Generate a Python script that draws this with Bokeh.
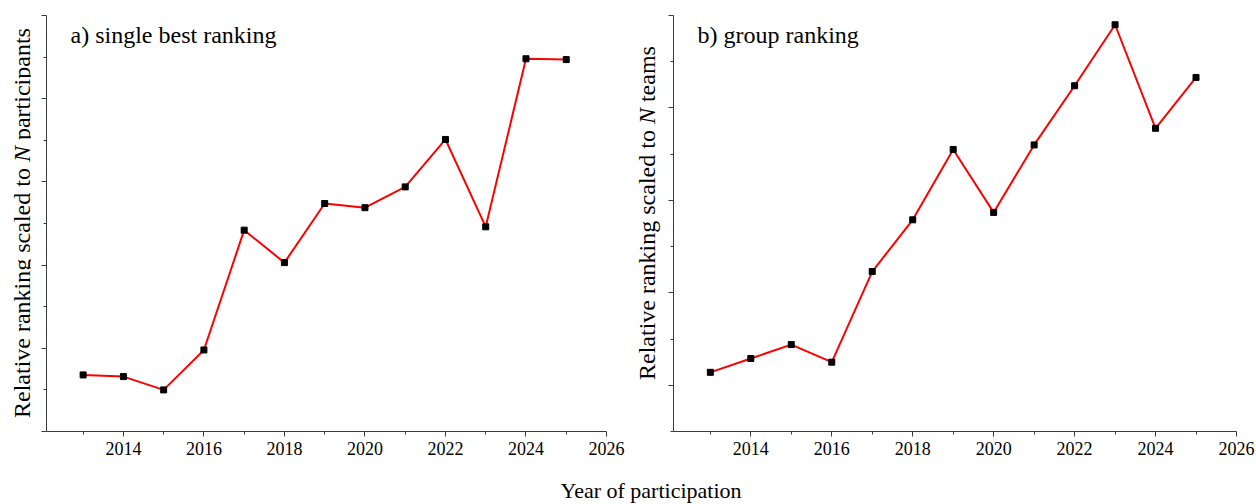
from bokeh.plotting import figure
from bokeh.models import Range1d, FixedTicker, CustomJSTickFormatter, Label, Div
from bokeh.layouts import row, column
from bokeh.embed import file_html
from bokeh.resources import INLINE

# ---- data ----
years = [2013, 2014, 2015, 2016, 2017, 2018, 2019, 2020, 2021, 2022, 2023, 2024, 2025]
single_best = [0.68, 0.66, 0.50, 0.98, 2.42, 2.03, 2.74, 2.69, 2.94, 3.51, 2.46, 4.48, 4.47]
group_rank = [1.14, 1.29, 1.44, 1.25, 2.23, 2.79, 3.55, 2.87, 3.60, 4.24, 4.90, 3.78, 4.33]

x_major = [2014, 2016, 2018, 2020, 2022, 2024, 2026]
x_minor = [2013, 2015, 2017, 2019, 2021, 2023, 2025]
left_major = [0, 1, 2, 3, 4, 5]
left_minor = [0.5, 1.5, 2.5, 3.5, 4.5]
right_major = [1, 2, 3, 4, 5]
right_minor = [0.5, 1.5, 2.5, 3.5, 4.5]

title_a = "a) single best ranking"
title_b = "b) group ranking"
ylabel_a = ("Relative ranking scaled to ", "N", " participants")
ylabel_b = ("Relative ranking scaled to ", "N", " teams")
xlabel_text = "Year of participation"

FONT = "Liberation Serif"
AXIS_COLOR = "#3a3a3a"
FIG_H = 464


def make_fig(width, border_left, border_right, y_start, y_end, ymaj, ymin, title):
    p = figure(width=width, height=FIG_H, output_backend="svg", toolbar_location=None,
               x_range=Range1d(2012.09, 2026), y_range=Range1d(y_start, y_end),
               min_border_left=border_left, min_border_right=border_right,
               min_border_top=15, min_border_bottom=33)
    p.outline_line_color = None
    p.grid.visible = False
    p.background_fill_color = "white"
    p.border_fill_color = "white"

    p.xaxis.ticker = FixedTicker(ticks=x_major, minor_ticks=x_minor)
    p.yaxis.ticker = FixedTicker(ticks=ymaj, minor_ticks=ymin)
    p.yaxis.formatter = CustomJSTickFormatter(code="return ''")
    p.yaxis.major_label_standoff = 0
    for ax in (p.xaxis[0], p.yaxis[0]):
        ax.axis_line_color = AXIS_COLOR
        ax.axis_line_width = 1
        ax.major_tick_line_color = AXIS_COLOR
        ax.minor_tick_line_color = AXIS_COLOR
        ax.major_tick_in = 0
        ax.major_tick_out = 5
        ax.minor_tick_in = 0
        ax.minor_tick_out = 3
    p.xaxis.major_label_text_font = FONT
    p.xaxis.major_label_text_font_size = "18px"
    p.xaxis.major_label_text_color = "black"
    p.xaxis.major_label_standoff = 5

    p.add_layout(Label(x=24, y=397, x_units="screen", y_units="screen", text=title,
                       text_font=FONT, text_font_size="24px", text_color="black",
                       text_align="left", text_baseline="alphabetic"))
    return p


def ylabel_div(parts, width, left, bottom):
    a, n, b = parts
    html = ("<div style=\"position:relative; width:%dpx; height:%dpx;\">"
            "<div style=\"position:absolute; left:%dpx; top:%dpx; transform:rotate(-90deg); "
            "transform-origin:left top; white-space:nowrap; font-family:'Liberation Serif'; "
            "font-size:24px; line-height:24px; color:black;\">%s<i>%s</i>%s</div></div>"
            % (width, FIG_H, left, bottom, a, n, b))
    return Div(text=html, width=width, height=FIG_H, margin=0)


p1 = make_fig(601, 16, 25, 0, 5, left_major, left_minor, title_a)
p1.line(years, single_best, line_color="#ff0000", line_width=2)
p1.scatter(years, single_best, marker="square", size=6, fill_color="black", line_color="black")

p2 = make_fig(595, 12, 20, 0.5, 5, right_major, right_minor, title_b)
p2.line(years, group_rank, line_color="#ff0000", line_width=2)
p2.scatter(years, group_rank, marker="square", size=6, fill_color="black", line_color="black")

yl1 = ylabel_div(ylabel_a, 30, 10, 418)
yl2 = ylabel_div(ylabel_b, 30, 4, 380)

xlabel = Div(text=("<div style=\"width:1256px; box-sizing:border-box; padding-left:46px; "
                   "padding-top:16px; text-align:center; font-family:'Liberation Serif'; "
                   "font-size:22px; line-height:22px; color:black; white-space:nowrap;\">"
                   + xlabel_text + "</div>"),
             width=1256, height=40, margin=0)

layout = column(row(yl1, p1, yl2, p2), xlabel)

open("out.html", "w").write(file_html(layout, INLINE))
